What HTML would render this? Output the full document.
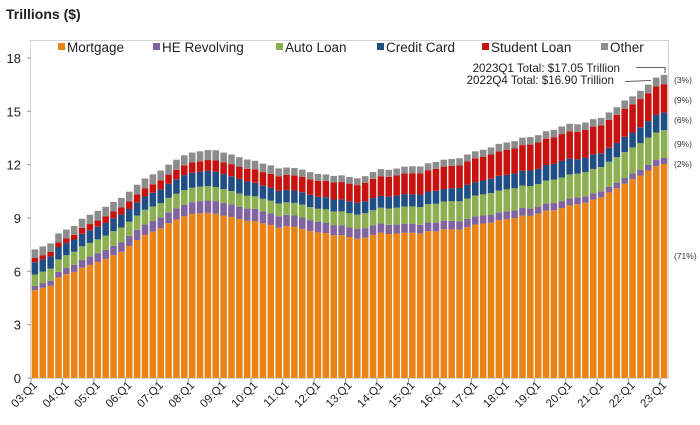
<!DOCTYPE html>
<html><head><meta charset="utf-8">
<style>
body{margin:0;background:#fff;width:700px;height:420px;overflow:hidden;font-family:"Liberation Sans",sans-serif}
svg text{font-family:"Liberation Sans",sans-serif}
</style></head>
<body>
<svg id="c" width="700" height="420">
<text x="6" y="19" font-size="14" font-weight="bold" fill="#222">Trillions ($)</text>
<rect x="30.5" y="40.5" width="638" height="338" fill="none" stroke="#d4d4d4"/>
</svg>
<script>
const mortgage=[4.94,5.08,5.18,5.66,5.84,5.97,6.21,6.36,6.53,6.70,6.91,7.10,7.43,7.76,8.05,8.23,8.42,8.71,8.91,9.10,9.23,9.27,9.29,9.24,9.14,9.06,8.94,8.84,8.83,8.70,8.61,8.45,8.54,8.52,8.39,8.27,8.19,8.15,8.03,8.03,7.93,7.84,7.90,8.05,8.17,8.10,8.13,8.17,8.17,8.12,8.26,8.25,8.37,8.36,8.35,8.48,8.63,8.69,8.74,8.88,8.94,9.00,9.14,9.12,9.24,9.41,9.44,9.56,9.71,9.78,9.86,10.04,10.16,10.44,10.67,10.93,11.18,11.39,11.67,11.92,12.04];
const heRevolving=[0.24,0.26,0.29,0.31,0.35,0.39,0.43,0.47,0.49,0.51,0.53,0.54,0.57,0.58,0.59,0.60,0.61,0.61,0.63,0.65,0.66,0.68,0.69,0.71,0.71,0.71,0.70,0.69,0.68,0.67,0.66,0.65,0.64,0.62,0.64,0.61,0.60,0.59,0.57,0.56,0.55,0.54,0.53,0.53,0.53,0.52,0.51,0.51,0.51,0.50,0.49,0.49,0.48,0.48,0.47,0.47,0.46,0.45,0.45,0.44,0.44,0.43,0.42,0.41,0.40,0.40,0.40,0.39,0.39,0.37,0.36,0.35,0.34,0.32,0.32,0.32,0.32,0.32,0.33,0.34,0.34];
const autoLoan=[0.64,0.64,0.68,0.70,0.72,0.74,0.77,0.77,0.78,0.80,0.82,0.82,0.79,0.80,0.82,0.82,0.80,0.81,0.82,0.82,0.81,0.81,0.81,0.79,0.78,0.75,0.74,0.72,0.71,0.71,0.71,0.71,0.70,0.71,0.72,0.73,0.73,0.75,0.77,0.78,0.79,0.81,0.84,0.86,0.88,0.91,0.94,0.96,0.97,1.00,1.03,1.06,1.07,1.10,1.12,1.14,1.17,1.19,1.21,1.22,1.23,1.24,1.26,1.27,1.27,1.30,1.32,1.33,1.35,1.34,1.36,1.37,1.37,1.40,1.43,1.46,1.47,1.50,1.52,1.55,1.56];
const creditCard=[0.69,0.69,0.69,0.70,0.68,0.69,0.70,0.71,0.71,0.71,0.72,0.74,0.72,0.74,0.75,0.77,0.78,0.80,0.82,0.84,0.84,0.85,0.86,0.87,0.84,0.83,0.82,0.80,0.76,0.74,0.73,0.73,0.70,0.70,0.70,0.70,0.68,0.68,0.67,0.68,0.67,0.67,0.67,0.68,0.66,0.67,0.68,0.70,0.68,0.70,0.71,0.73,0.71,0.73,0.75,0.78,0.76,0.78,0.81,0.83,0.82,0.83,0.84,0.87,0.85,0.87,0.88,0.93,0.89,0.82,0.82,0.82,0.77,0.79,0.80,0.86,0.84,0.89,0.93,0.99,0.99];
const studentLoan=[0.24,0.24,0.25,0.25,0.26,0.26,0.33,0.35,0.36,0.38,0.39,0.39,0.43,0.44,0.45,0.48,0.51,0.51,0.53,0.55,0.58,0.58,0.61,0.64,0.66,0.68,0.69,0.72,0.76,0.76,0.78,0.81,0.84,0.85,0.87,0.87,0.90,0.91,0.96,0.97,0.99,0.99,1.03,1.08,1.11,1.12,1.13,1.16,1.19,1.19,1.20,1.23,1.26,1.26,1.28,1.31,1.34,1.34,1.36,1.38,1.41,1.41,1.44,1.46,1.49,1.48,1.50,1.51,1.54,1.54,1.55,1.56,1.58,1.57,1.58,1.58,1.59,1.59,1.57,1.60,1.60];
const other=[0.48,0.49,0.48,0.51,0.50,0.50,0.52,0.52,0.53,0.53,0.53,0.54,0.54,0.55,0.56,0.56,0.55,0.56,0.57,0.57,0.56,0.56,0.56,0.56,0.55,0.54,0.53,0.52,0.48,0.48,0.47,0.44,0.42,0.41,0.40,0.40,0.38,0.37,0.37,0.38,0.38,0.38,0.38,0.39,0.40,0.39,0.39,0.39,0.39,0.39,0.39,0.39,0.39,0.39,0.39,0.39,0.39,0.39,0.40,0.42,0.41,0.41,0.42,0.42,0.41,0.42,0.42,0.43,0.42,0.42,0.42,0.42,0.41,0.42,0.43,0.46,0.44,0.46,0.48,0.50,0.52];
const seriesNames=["Mortgage","HE Revolving","Auto Loan","Credit Card","Student Loan","Other"];
const seriesColors=["#ea8418","#8064a2","#8cb04f","#1f4e87","#c8120e","#8c8c8c"];
const yTicks=[0,3,6,9,12,15,18];
const xTickLabels=["03:Q1","04:Q1","05:Q1","06:Q1","07:Q1","08:Q1","09:Q1","10:Q1","11:Q1","12:Q1","13:Q1","14:Q1","15:Q1","16:Q1","17:Q1","18:Q1","19:Q1","20:Q1","21:Q1","22:Q1","23:Q1"];
const shareLabels=["(3%)","(9%)","(6%)","(9%)","(2%)","(71%)"];

const NS="http://www.w3.org/2000/svg";
const svg=document.getElementById('c');
const X0=31,X1=668,Y0=378,Y18=58;
const n=mortgage.length, pitch=(X1-X0)/n;
const y=v=>Y0-(v/18)*(Y0-Y18);
const x=i=>X0+i*pitch;
function mk(t,a){const e=document.createElementNS(NS,t);for(const k in a)e.setAttribute(k,a[k]);svg.appendChild(e);return e;}
const all=[mortgage,heRevolving,autoLoan,creditCard,studentLoan,other];
for(let i=0;i<n;i++){
  let base=0;
  all.forEach((s,k)=>{
    const r=mk('rect',{x:x(i)+0.6,y:y(base+s[i]),width:pitch-1.3,height:y(base)-y(base+s[i]),fill:seriesColors[k]});
    
    
    base+=s[i];
  });
}
yTicks.forEach(v=>{
  const t=mk('text',{x:21,y:y(v)+5,'font-size':13,'text-anchor':'end',fill:'#222'});
  t.textContent=v;
  
  
  const l=mk('line',{x1:27,x2:31,y1:y(v),y2:y(v),stroke:'#999'});
  
  
});
xTickLabels.forEach((lab,j)=>{
  const cx=x(j*4)+pitch/2;
  const t=mk('text',{x:cx+3,y:386,'font-size':11.5,'text-anchor':'end',fill:'#222',transform:`rotate(-45 ${cx+3} 386)`});
  t.textContent=lab;
  
  
  const l=mk('line',{x1:x(j*4),x2:x(j*4),y1:378,y2:382,stroke:'#999'});
  
  
});
// legend
const legX=[58,153,276,377,482,601];
seriesNames.forEach((nm,k)=>{
  const g=mk('g',{});
  
  
  const r=document.createElementNS(NS,'rect');
  r.setAttribute('x',legX[k]);r.setAttribute('y',43);r.setAttribute('width',7);r.setAttribute('height',7);r.setAttribute('fill',seriesColors[k]);
  g.appendChild(r);
  const t=document.createElementNS(NS,'text');
  t.setAttribute('x',legX[k]+9);t.setAttribute('y',52);t.setAttribute('font-size',13.5);t.setAttribute('fill','#222');
  t.textContent=nm;g.appendChild(t);
});
// share labels
const shareY=[83,103,123,147,167,259];
shareLabels.forEach((s,k)=>{
  const t=mk('text',{x:674,y:shareY[k],'font-size':8.5,fill:'#333','font-family':'Liberation Serif'});
  t.textContent=s;
  
  
});
const a1=mk('text',{x:620,y:72,'font-size':11.6,'text-anchor':'end',fill:'#222'});a1.textContent="2023Q1 Total: $17.05 Trillion";


const a2=mk('text',{x:614,y:84,'font-size':11.6,'text-anchor':'end',fill:'#222'});a2.textContent="2022Q4 Total: $16.90 Trillion";


const p1=mk('polyline',{points:`636,67.5 665,67.5 665,73`,fill:'none',stroke:'#333','stroke-width':0.8});


const p2=mk('polyline',{points:`625,81.5 651,80.5`,fill:'none',stroke:'#333','stroke-width':0.8});


</script>
</body></html>
